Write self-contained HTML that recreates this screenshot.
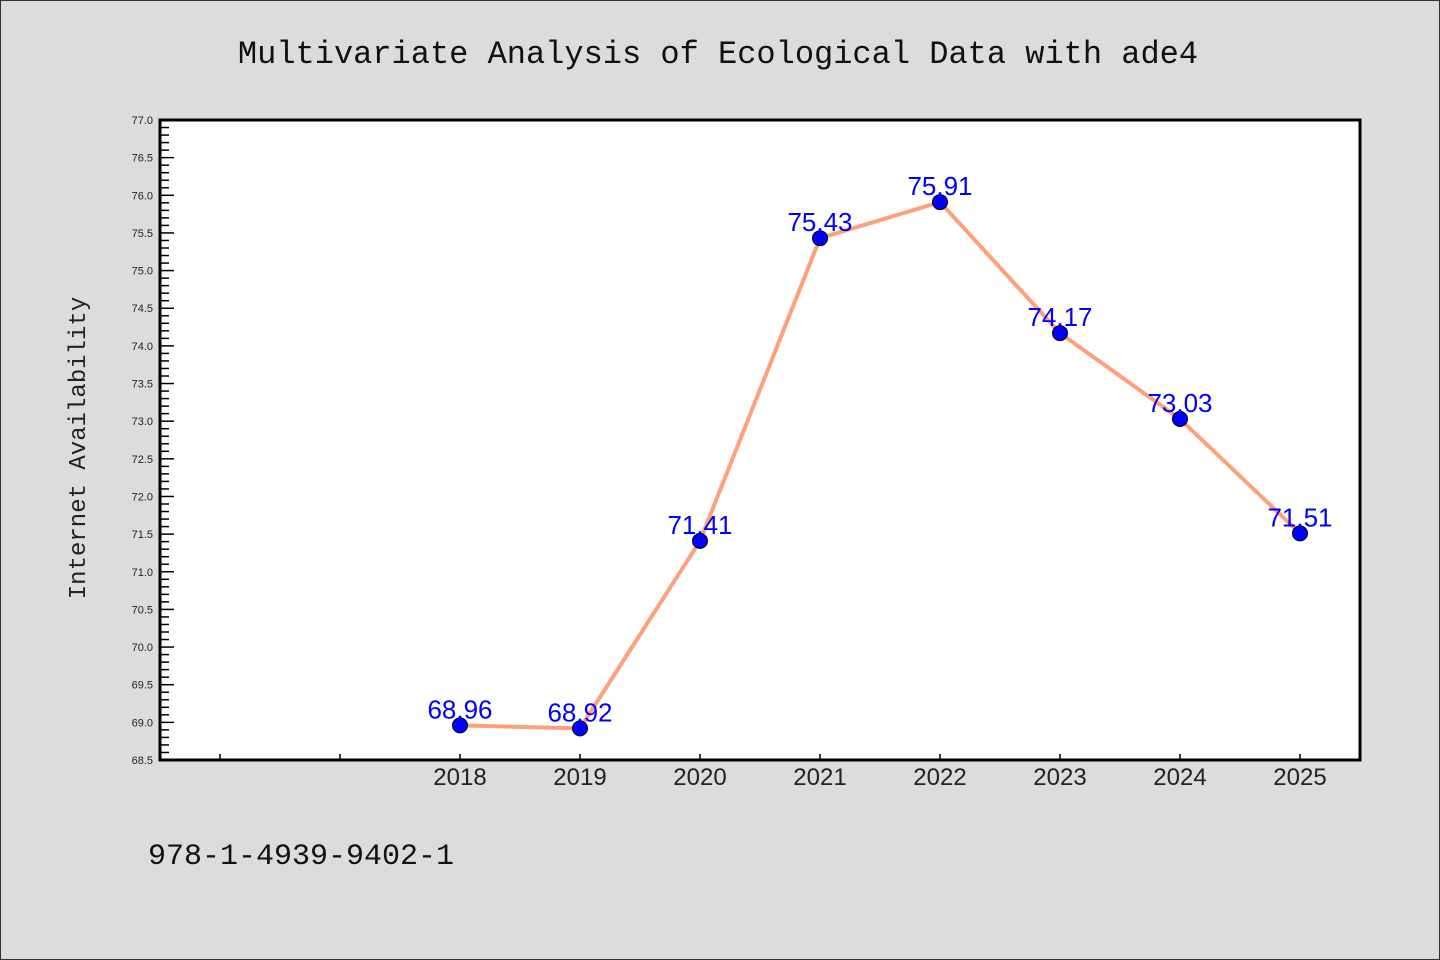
<!DOCTYPE html>
<html><head><meta charset="utf-8"><style>
html,body{margin:0;padding:0;background:#dcdcdc;}
svg{display:block;}
</style></head><body>
<svg width="1440" height="960" xmlns="http://www.w3.org/2000/svg">
<rect x="0.5" y="0.5" width="1439" height="959" fill="#dcdcdc" stroke="#333"/>
<text x="718" y="63" text-anchor="middle" font-family="Liberation Mono, monospace" font-size="32" fill="#111">Multivariate Analysis of Ecological Data with ade4</text>
<rect x="160" y="120" width="1200" height="640" fill="#fff"/>
<g id="axes"></g>
<g id="marks"></g>
<rect x="160" y="120" width="1200" height="640" fill="none" stroke="#000" stroke-width="3"/>
<text transform="translate(85,448) rotate(-90)" text-anchor="middle" font-family="Liberation Mono, monospace" font-size="24" fill="#222">Internet Availability</text>
<text x="148" y="864" font-family="Liberation Mono, monospace" font-size="30" fill="#111">978-1-4939-9402-1</text>
</svg>
<script>
const years = [2018, 2019, 2020, 2021, 2022, 2023, 2024, 2025];
const values = [68.96, 68.92, 71.41, 75.43, 75.91, 74.17, 73.03, 71.51];
const valueLabels = ["68.96", "68.92", "71.41", "75.43", "75.91", "74.17", "73.03", "71.51"];
const extraXTicks = [2016, 2017];
const yMin = 68.5, yMax = 77.0;
const NS = "http://www.w3.org/2000/svg";
function xs(yr){ return 460 + (yr - 2018) * 120; }
function ys(v){ return 760 - (v - yMin) / (yMax - yMin) * 640; }
function mk(tag, attrs, parent){ const e=document.createElementNS(NS,tag); for(const k in attrs) e.setAttribute(k,attrs[k]); parent.appendChild(e); return e; }
const axes=document.getElementById('axes'), marks=document.getElementById('marks');
// y ticks
for(let i=0;i<=Math.round((yMax-yMin)*10);i++){
  const v=yMin+i*0.1, y=ys(v), major=(i%5===0);
  const t=mk('line',{x1:160,x2:160+(major?14:9),y1:y,y2:y,stroke:'#000','stroke-width':1.5},axes);
  
  
  if(major){
    const l=mk('text',{x:153,y:y+4,'text-anchor':'end','font-family':'Liberation Sans, sans-serif','font-size':11,fill:'#222'},axes);
    l.textContent=v.toFixed(1);
    
    
  }
}
// x ticks
extraXTicks.concat(years).forEach(yr=>{
  const x=xs(yr);
  const t=mk('line',{x1:x,x2:x,y1:760,y2:754,stroke:'#000','stroke-width':1.5},axes);
  
  
});
years.forEach(yr=>{
  const l=mk('text',{x:xs(yr),y:785,'text-anchor':'middle','font-family':'Liberation Sans, sans-serif','font-size':24,fill:'#222'},axes);
  l.textContent=String(yr);
  
  
});
// line
const pts=years.map((yr,i)=>xs(yr)+','+ys(values[i])).join(' ');
const pl=mk('polyline',{points:pts,fill:'none',stroke:'#ffa07a','stroke-width':4,'stroke-linejoin':'round'},marks);


years.forEach((yr,i)=>{
  const c=mk('circle',{cx:xs(yr),cy:ys(values[i]),r:7.5,fill:'#0000ff',stroke:'#000','stroke-width':1},marks);
  
  
});
years.forEach((yr,i)=>{
  const l=mk('text',{x:xs(yr),y:ys(values[i])-7,'text-anchor':'middle','font-family':'Liberation Sans, sans-serif','font-size':26,fill:'#0000ff'},marks);
  l.textContent=valueLabels[i];
  
  
});
</script>
</body></html>
